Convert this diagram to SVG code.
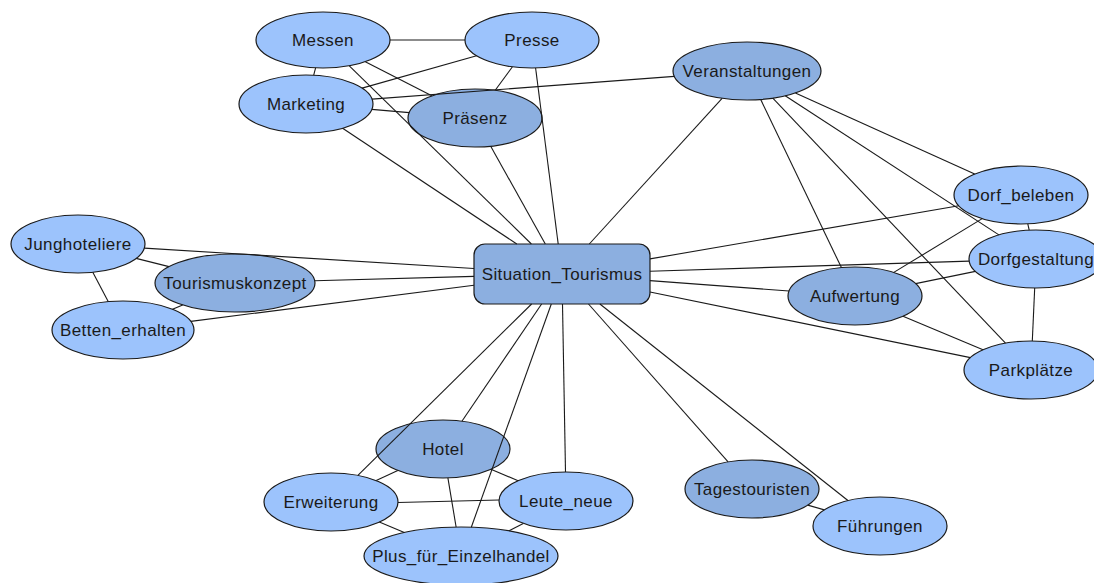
<svg xmlns="http://www.w3.org/2000/svg" width="1094" height="583" viewBox="0 0 1094 583">
<style>
.n ellipse,.n rect{stroke:#1a1a1a;stroke-width:1.2}
.l ellipse{fill:#9cc3fc}
.d ellipse,.d rect{fill:#8cafe0}
text{font-family:"Liberation Sans",Arial,sans-serif;font-size:17px;letter-spacing:0.4px;fill:#1a1a1a;text-anchor:middle;dominant-baseline:central}
#edges line{stroke:#1a1a1a;stroke-width:1.1}
</style>
<rect width="1094" height="583" fill="#fff"/>
<g id="nodes">
<g id="messen" class="n l"><ellipse cx="323" cy="40" rx="67" ry="28"/><text x="323" y="40">Messen</text></g>
<g id="presse" class="n l"><ellipse cx="532" cy="40" rx="67" ry="28"/><text x="532" y="40">Presse</text></g>
<g id="marketing" class="n l"><ellipse cx="306" cy="104" rx="67" ry="29"/><text x="306" y="104">Marketing</text></g>
<g id="praesenz" class="n d"><ellipse cx="475" cy="118" rx="67" ry="29"/><text x="475" y="118">Präsenz</text></g>
<g id="veranstaltungen" class="n d"><ellipse cx="747" cy="71" rx="74" ry="29"/><text x="747" y="71">Veranstaltungen</text></g>
<g id="dorf_beleben" class="n l"><ellipse cx="1021" cy="195" rx="67" ry="29"/><text x="1021" y="195">Dorf_beleben</text></g>
<g id="dorfgestaltung" class="n l"><ellipse cx="1036" cy="259" rx="67" ry="29"/><text x="1036" y="259">Dorfgestaltung</text></g>
<g id="aufwertung" class="n d"><ellipse cx="855" cy="296" rx="67" ry="29"/><text x="855" y="296">Aufwertung</text></g>
<g id="parkplaetze" class="n l"><ellipse cx="1031" cy="370" rx="67" ry="29"/><text x="1031" y="370">Parkplätze</text></g>
<g id="junghoteliere" class="n l"><ellipse cx="78" cy="244" rx="67" ry="29"/><text x="78" y="244">Junghoteliere</text></g>
<g id="tourismuskonzept" class="n d"><ellipse cx="235" cy="283" rx="80" ry="29"/><text x="235" y="283">Tourismuskonzept</text></g>
<g id="betten_erhalten" class="n l"><ellipse cx="123" cy="330" rx="71" ry="29"/><text x="123" y="330">Betten_erhalten</text></g>
<g id="situation_tourismus" class="n d"><rect x="474" y="244" width="176" height="60" rx="11" ry="11"/><text x="562" y="274">Situation_Tourismus</text></g>
<g id="hotel" class="n d"><ellipse cx="443" cy="449" rx="67" ry="29"/><text x="443" y="449">Hotel</text></g>
<g id="erweiterung" class="n l"><ellipse cx="331" cy="502" rx="67" ry="29"/><text x="331" y="502">Erweiterung</text></g>
<g id="leute_neue" class="n l"><ellipse cx="566" cy="501" rx="67" ry="29"/><text x="566" y="501">Leute_neue</text></g>
<g id="plus_einzelhandel" class="n l"><ellipse cx="461" cy="556" rx="97" ry="29"/><text x="461" y="556">Plus_für_Einzelhandel</text></g>
<g id="tagestouristen" class="n d"><ellipse cx="752" cy="489" rx="67" ry="29"/><text x="752" y="489">Tagestouristen</text></g>
<g id="fuehrungen" class="n l"><ellipse cx="880" cy="526" rx="67" ry="29"/><text x="880" y="526">Führungen</text></g>
</g>
<g id="edges">
<line x1="390" y1="40" x2="465" y2="40"/>
<line x1="315.6" y1="67.8" x2="313.7" y2="75.2"/>
<line x1="365.3" y1="61.7" x2="431.8" y2="95.8"/>
<line x1="349.3" y1="65.8" x2="531.4" y2="244"/>
<line x1="476.6" y1="55.7" x2="362.1" y2="88.1"/>
<line x1="512.4" y1="66.8" x2="495.2" y2="90.3"/>
<line x1="535.6" y1="68" x2="558.2" y2="244"/>
<line x1="371.8" y1="109.4" x2="409.2" y2="112.6"/>
<line x1="372" y1="99.1" x2="674.3" y2="76.4"/>
<line x1="342.6" y1="128.3" x2="516.8" y2="244"/>
<line x1="490.7" y1="146.2" x2="545.3" y2="244"/>
<line x1="722.1" y1="98.3" x2="589.3" y2="244"/>
<line x1="760.7" y1="99.5" x2="841.4" y2="267.6"/>
<line x1="772.8" y1="98.2" x2="1005.5" y2="343.2"/>
<line x1="785.2" y1="95.8" x2="998.9" y2="234.9"/>
<line x1="795.4" y1="92.9" x2="974.7" y2="174"/>
<line x1="650" y1="258.9" x2="958.8" y2="205.7"/>
<line x1="650" y1="271.2" x2="969.2" y2="261.1"/>
<line x1="650" y1="280.6" x2="789" y2="291"/>
<line x1="650" y1="292" x2="970.4" y2="357.6"/>
<line x1="893.8" y1="272.4" x2="982.2" y2="218.6"/>
<line x1="915.6" y1="283.6" x2="975.4" y2="271.4"/>
<line x1="903" y1="316.2" x2="983" y2="349.8"/>
<line x1="1027.8" y1="223.9" x2="1029.2" y2="230.1"/>
<line x1="1034.7" y1="288" x2="1032.3" y2="341"/>
<line x1="144.3" y1="248.1" x2="474" y2="268.5"/>
<line x1="136.1" y1="258.4" x2="169" y2="266.6"/>
<line x1="92.8" y1="272.3" x2="108.2" y2="301.6"/>
<line x1="314.8" y1="280.8" x2="474" y2="276.4"/>
<line x1="190.8" y1="321.4" x2="474" y2="285.2"/>
<line x1="172.5" y1="309.2" x2="182.7" y2="304.9"/>
<line x1="531.6" y1="304" x2="357.9" y2="475.4"/>
<line x1="541.6" y1="304" x2="461.9" y2="421.2"/>
<line x1="551.3" y1="304" x2="471.3" y2="527.2"/>
<line x1="562.5" y1="304" x2="565.5" y2="472"/>
<line x1="588.5" y1="304" x2="728.1" y2="461.9"/>
<line x1="599.9" y1="304" x2="847.9" y2="500.5"/>
<line x1="397.8" y1="470.4" x2="376.2" y2="480.6"/>
<line x1="490.9" y1="469.3" x2="518.1" y2="480.7"/>
<line x1="447.9" y1="477.9" x2="456.1" y2="527"/>
<line x1="398" y1="502.5" x2="499" y2="500"/>
<line x1="379.3" y1="522.1" x2="404.3" y2="532.5"/>
<line x1="523.3" y1="523.4" x2="509.1" y2="530.8"/>
<line x1="807.7" y1="505.1" x2="824.3" y2="509.9"/>
</g>
</svg>
